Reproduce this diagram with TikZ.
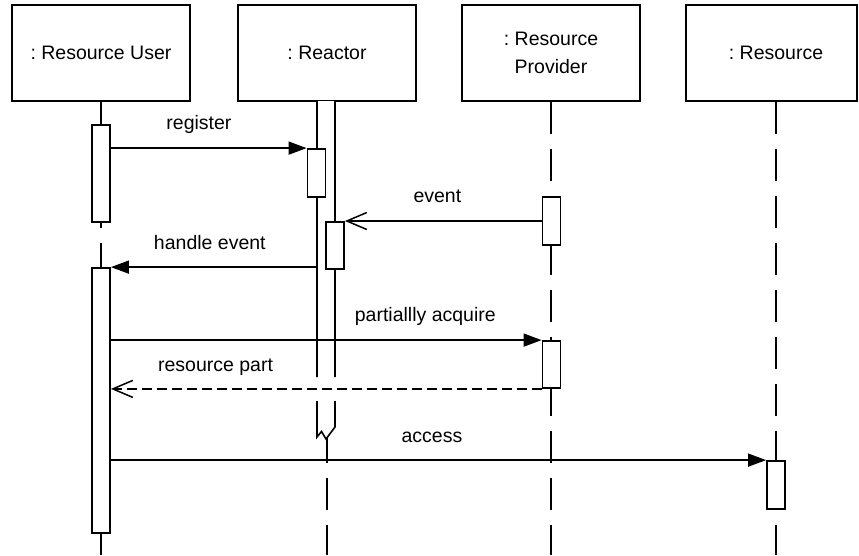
\documentclass[tikz,border=0pt]{standalone}
\usepackage{fontspec}
\setmainfont{Liberation Sans}
\usetikzlibrary{arrows.meta}
\frenchspacing
\tikzset{
  obj/.style={draw, line width=1.8pt, minimum width=178pt, minimum height=96pt, align=center, inner sep=0pt},
  act/.style={draw, fill=white, line width=1.8pt, minimum width=18pt, inner sep=0pt},
  life/.style={line width=1.5pt, dash pattern=on 32pt off 15pt},
  msg/.style={line width=1.5pt, -{Triangle[length=18pt,width=13pt]}},
  async/.style={line width=1.5pt, -{Straight Barb[length=20pt,width=17pt]}},
  reply/.style={async, dash pattern=on 10pt off 5pt},
  lbl/.style={inner sep=0pt, text height=14pt, text depth=4pt},
}
\begin{document}
\begin{tikzpicture}[x=1pt, y=-1pt, font=\fontsize{19.5}{28}\selectfont]
    \useasboundingbox (0,0) rectangle (859,555);
    \node[obj] (user) at (101,53) {: Resource User};
    \node[obj] (reactor) at (327,53) {: Reactor};
    \node[obj] (provider) at (551,53) {: Resource\\Provider};
    \node[obj, minimum width=171pt] (resource) at (771.5,53) {\hspace*{9pt}: Resource};
    \coordinate (bottom) at (0,555);
    \foreach \o in {user, reactor, provider}
        \draw[life] (\o.south) -- (\o.south |- bottom);
    \draw[life] ([xshift=4.5pt]resource.south) -- ([xshift=4.5pt]resource.south |- bottom);
    \coordinate (rl) at (317,101);
    \coordinate (rr) at (335,101);
    \fill[white] (rl) -- (rr) -- (335,427) -- (326,439) -- (321.5,431.5) -- (317,437) -- cycle;
    \draw[line width=1.6pt] (rl) -- (317,377) (317,401) -- (317,437) -- (321.5,431.5) -- (326,439)
        -- (335,427) -- (335,401) (335,377) -- (rr);
    \node[act, minimum height=97pt] (ua1) at (101,173.5) {};
    \node[act, minimum height=265pt] (ua2) at (101,400.5) {};
    \node[act, minimum height=48pt] (ra1) at (316.5,173) {};
    \node[act, minimum height=47pt] (ra2) at (335,245.5) {};
    \node[act, minimum height=48pt] (pa1) at (551.5,221) {};
    \node[act, minimum height=47pt] (pa2) at (551.5,364.5) {};
    \node[act, minimum height=48pt] (sa1) at (776,485) {};
    \path[msg] 
    (ua1.east |- ra1.north) 
    edge 
    node[lbl, above=14pt, pos=0.45] {register} (ra1.north west);
    \path[async] 
    (pa1.west) 
    edge 
    node[lbl, above=14pt, pos=0.53] {event} (pa1.west -| ra2.east);
    \path[msg] 
    (rl |- ua2.north) 
    edge 
    node[lbl, above=13pt, pos=0.52] {handle event} (ua2.north east);
    \path[msg] 
    (ua2.east |- pa2.north) 
    edge 
    node[lbl, above=14pt, pos=0.73] {partiallly acquire} (pa2.north west);
    \path[reply] 
    (pa2.south west) 
    edge 
    node[lbl, above=13pt, pos=0.757] {resource part} (pa2.south west -| ua2.east);
    \path[msg] 
    (ua2.east |- sa1.north) 
    edge 
    node[lbl, above=13pt, pos=0.49] {access} (sa1.north west);
\end{tikzpicture}
\end{document}
